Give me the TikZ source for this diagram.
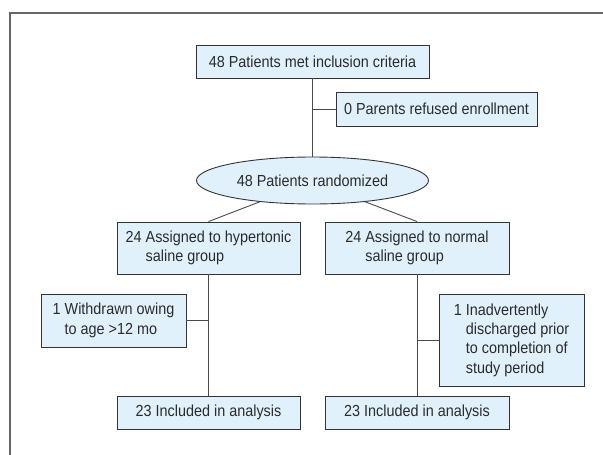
\documentclass[tikz,border=0pt]{standalone}
\usepackage{fontspec}
\setmainfont{Liberation Sans}[FakeStretch=0.9]
\usetikzlibrary{shapes.geometric}
\definecolor{boxfill}{HTML}{E0F1FB}
\definecolor{boxline}{HTML}{333333}
\definecolor{linkc}{HTML}{4A4A4A}
\definecolor{framec}{HTML}{666666}
\definecolor{ink}{HTML}{2B2B2B}
\tikzset{
  box/.style={draw=boxline,fill=boxfill,line width=0.9pt,inner sep=0pt,align=left,text=ink,font=\fontsize{16}{19.3}\selectfont},
  ebox/.style={box,ellipse},
  link/.style={draw=linkc,line width=0.9pt},
}
\begin{document}
\begin{tikzpicture}[x=1pt,y=-1pt]
\useasboundingbox (0,0) rectangle (603,455);
\draw[framec,line width=1.5pt] (10,455) -- (10,13) -- (603,13);
% enrollment
\node[box,minimum width=233,minimum height=33] (met) at (312.5,61.5) {48 Patients met inclusion criteria};
\node[box,minimum width=201,minimum height=34] (refuse) at (436.5,109) {0 Parents refused enrollment};
\node[ebox,minimum width=232,minimum height=47] (rand) at (312.5,180.5) {48 Patients randomized};
% allocation
\node[box,minimum width=183,minimum height=52] (hyper) at (208.5,248) {24 Assigned to hypertonic\\\phantom{24 }saline group};
\node[box,minimum width=184,minimum height=52] (normal) at (417,248) {24 Assigned to normal\\\phantom{24 }saline group};
\node[box,minimum width=145,minimum height=53] (withdrawn) at (113.5,320.5) {1 Withdrawn owing\\\phantom{1 }to age >12 mo};
\node[box,minimum width=145,minimum height=92] (inadv) at (511.5,340) {1 Inadvertently\\\phantom{1 }discharged prior\\\phantom{1 }to completion of\\\phantom{1 }study period};
% analysis
\node[box,minimum width=183,minimum height=33] (inclA) at (208.5,412.5) {23 Included in analysis};
\node[box,minimum width=184,minimum height=33] (inclB) at (417,412.5) {23 Included in analysis};

\draw[link] (met) -- (rand);
\draw[link] (refuse.west) -- (refuse.west -| met.south);
\draw[link] (rand.202) -- (hyper.north);
\draw[link] (rand.338) -- (normal.north);
\draw[link] (hyper) -- (inclA);
\draw[link] (withdrawn.east) -- (withdrawn.east -| hyper.south);
\draw[link] (normal) -- (inclB);
\draw[link] (inadv.west) -- (inadv.west -| normal.south);
\end{tikzpicture}
\end{document}
